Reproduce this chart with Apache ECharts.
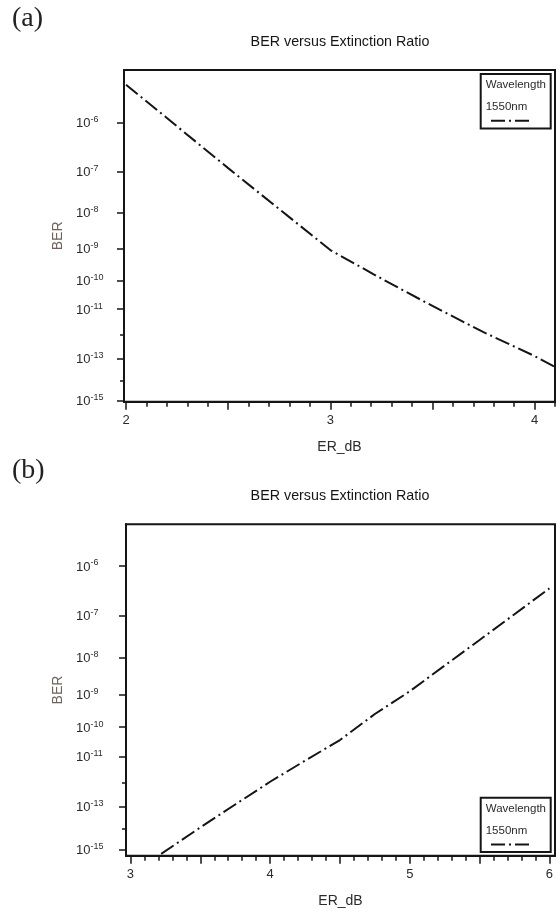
<!DOCTYPE html>
<html>
<head>
<meta charset="utf-8">
<script src="https://cdn.jsdelivr.net/npm/echarts@6/dist/echarts.min.js"></script>
<style>
  html, body { margin: 0; padding: 0; background: #fff; }
  #main { width: 560px; height: 910px; }
</style>
</head>
<body>
<div id="main"></div>
<script>
// (a) BER versus ER
var erA = [2.0, 2.5, 3.0, 3.25, 3.5, 3.75, 4.0, 4.1];
var berA = [4.7e-6, 1.18e-7, 9.1e-10, 1.16e-10, 1.3e-11, 1.3e-12, 1.3e-13, 4.2e-14];

// (b)
var erB = [3.22, 3.5, 3.75, 4.0, 4.25, 4.5, 4.75, 5.0, 5.25, 5.5, 5.75, 6.0];
var berB = [6.2e-16, 1.2e-14, 1.27e-13, 1.09e-12, 6.9e-12, 3.7e-11, 2.6e-10, 1.24e-9, 6.3e-9, 2.75e-8, 1.07e-7, 3.7e-7];

// y axis: labelled exponents and the unlabelled ones
var yLabelExp = [6, 7, 8, 9, 10, 11, 13, 15];
var yMinorExp = [12, 14];

// x axis ticks
var xMajorA = [2, 2.5, 3, 3.5, 4];
var xLabelA = [2, 3, 4];
var xMajorB = [3, 3.5, 4, 4.5, 5, 5.5, 6];
var xLabelB = [3, 4, 5, 6];

var FONT = '"Liberation Sans", Arial, sans-serif';
var INK = '#151515';
var TXT = '#2b2b2b';

// BER axis is drawn on a log(Q) scale, Q the gaussian argument of the BER
function erfc(x) {
  var z = Math.abs(x), t = 1 / (1 + 0.5 * z);
  var r = t * Math.exp(-z * z - 1.26551223 + t * (1.00002368 + t * (0.37409196 + t * (0.09678418 +
    t * (-0.18628806 + t * (0.27886807 + t * (-1.13520398 + t * (1.48851587 +
    t * (-0.82215223 + t * 0.17087277)))))))));
  return x >= 0 ? r : 2 - r;
}
function berOfQ(q) { return 0.5 * erfc(q / Math.SQRT2); }
function qOfBer(ber) {
  var lo = 0, hi = 40;
  for (var i = 0; i < 80; i++) {
    var mid = (lo + hi) / 2;
    if (berOfQ(mid) > ber) lo = mid; else hi = mid;
  }
  return (lo + hi) / 2;
}
function yv(ber) { return Math.log10(qOfBer(ber)); }
function expTicks(list) { return list.map(function (e) { return yv(Math.pow(10, -e)); }); }
function steps(a, b, d) {
  var out = [];
  for (var i = 0; a + i * d <= b + 1e-9; i++) out.push(Math.round((a + i * d) * 100) / 100);
  return out;
}

function yAxes(grid, topBer, botBer, margin, gap) {
  var min = yv(topBer), max = yv(botBer);
  return [{
    type: 'value', gridIndex: grid, position: 'left', inverse: true, min: min, max: max,
    name: 'BER', nameLocation: 'middle', nameGap: gap,
    nameTextStyle: { fontFamily: FONT, fontSize: 14, color: '#6e6259' },
    axisLine: { show: true, onZero: false, lineStyle: { color: INK, width: 2 } },
    axisTick: { show: true, length: 7, customValues: expTicks(yLabelExp), lineStyle: { color: INK, width: 1.5 } },
    axisLabel: {
      customValues: expTicks(yLabelExp), align: 'left', margin: margin,
      formatter: function (v) {
        var e = Math.round(-Math.log10(berOfQ(Math.pow(10, v))));
        return '{b|10}{s|-' + e + '}';
      },
      rich: {
        b: { fontFamily: FONT, fontSize: 13, color: TXT, lineHeight: 15, verticalAlign: 'bottom' },
        s: { fontFamily: FONT, fontSize: 9, color: TXT, lineHeight: 9, verticalAlign: 'top' }
      }
    },
    splitLine: { show: false }
  }, {
    type: 'value', gridIndex: grid, position: 'left', inverse: true, min: min, max: max,
    axisLine: { show: false }, axisLabel: { show: false }, splitLine: { show: false },
    axisTick: { show: true, length: 4, customValues: expTicks(yMinorExp), lineStyle: { color: INK, width: 1.5 } }
  }];
}

function xAxes(grid, min, max, majors, labels, minors) {
  return [{
    type: 'value', gridIndex: grid, position: 'bottom', min: min, max: max,
    name: 'ER_dB', nameLocation: 'middle', nameGap: 38,
    nameTextStyle: { fontFamily: FONT, fontSize: 14, color: TXT },
    axisLine: { show: true, onZero: false, lineStyle: { color: INK, width: 2 } },
    axisTick: { show: true, length: 8, customValues: majors, lineStyle: { color: INK, width: 1.5 } },
    axisLabel: { customValues: labels, margin: 12, fontFamily: FONT, fontSize: 13, color: TXT },
    splitLine: { show: false }
  }, {
    type: 'value', gridIndex: grid, position: 'bottom', min: min, max: max,
    axisLine: { show: false }, axisLabel: { show: false }, splitLine: { show: false },
    axisTick: { show: true, length: 5, customValues: minors, lineStyle: { color: INK, width: 1.5 } }
  }];
}

function legendBox(top) {
  return {
    data: ['1550nm'], left: 480.7, top: top, orient: 'vertical', selectedMode: false,
    itemWidth: 42, itemHeight: 6, formatter: function () { return ''; },
    padding: [43.7, 16.7, 5.3, 9.3],
    borderColor: INK, borderWidth: 2, backgroundColor: '#fff',
    itemStyle: { opacity: 0 },
    lineStyle: { color: INK, width: 2, type: [14, 4, 2, 4] }
  };
}

var titleStyle = { fontFamily: FONT, fontSize: 14.3, fontWeight: 'normal', color: INK };
var tagStyle = { fontFamily: '"Liberation Serif", serif', fontSize: 28, fontWeight: 'normal', color: '#222' };
var lineStyle = { color: INK, width: 2, type: [15, 4, 2, 4] };

var chart = echarts.init(document.getElementById('main'));
chart.setOption({
  animation: false,
  backgroundColor: '#fff',
  title: [
    { text: '(a)', left: 12, top: 5, padding: 0, textStyle: tagStyle },
    { text: 'BER versus Extinction Ratio', left: 340, top: 35, textAlign: 'center', padding: 0, textStyle: titleStyle },
    { text: '(b)', left: 12, top: 457, padding: 0, textStyle: tagStyle },
    { text: 'BER versus Extinction Ratio', left: 340, top: 489, textAlign: 'center', padding: 0, textStyle: titleStyle }
  ],
  grid: [
    { left: 124, right: 5, top: 70, height: 331.7, show: true, borderColor: INK, borderWidth: 2 },
    { left: 126, right: 5, top: 524.3, height: 331.4, show: true, borderColor: INK, borderWidth: 2 }
  ],
  xAxis: [].concat(
    xAxes(0, 1.99, 4.1, xMajorA, xLabelA, steps(2, 4.1, 0.1)),
    xAxes(1, 2.968, 6.04, xMajorB, xLabelB, steps(3, 6, 0.1))
  ),
  yAxis: [].concat(
    yAxes(0, 8.1e-6, 8.8e-16, 48, 57),
    yAxes(1, 5.2e-6, 5e-16, 50, 59)
  ),
  legend: [legendBox(74), legendBox(797.7)],
  graphic: [
    { type: 'text', x: 485.7, y: 85, z: 100, style: { text: 'Wavelength', fontFamily: FONT, fontSize: 11.5, fill: TXT, verticalAlign: 'middle' } },
    { type: 'text', x: 485.7, y: 107, z: 100, style: { text: '1550nm', fontFamily: FONT, fontSize: 11.5, fill: TXT, verticalAlign: 'middle' } },
    { type: 'text', x: 485.7, y: 809.3, z: 100, style: { text: 'Wavelength', fontFamily: FONT, fontSize: 11.5, fill: TXT, verticalAlign: 'middle' } },
    { type: 'text', x: 485.7, y: 830.7, z: 100, style: { text: '1550nm', fontFamily: FONT, fontSize: 11.5, fill: TXT, verticalAlign: 'middle' } }
  ],
  series: [
    {
      type: 'line', name: '1550nm', xAxisIndex: 0, yAxisIndex: 0, symbol: 'none',
      itemStyle: { color: INK },
      data: erA.map(function (x, i) { return [x, yv(berA[i])]; }),
      lineStyle: lineStyle
    },
    {
      type: 'line', name: '1550nm', xAxisIndex: 2, yAxisIndex: 2, symbol: 'none',
      itemStyle: { color: INK },
      data: erB.map(function (x, i) { return [x, yv(berB[i])]; }),
      lineStyle: lineStyle
    }
  ]
});
</script>
</body>
</html>
